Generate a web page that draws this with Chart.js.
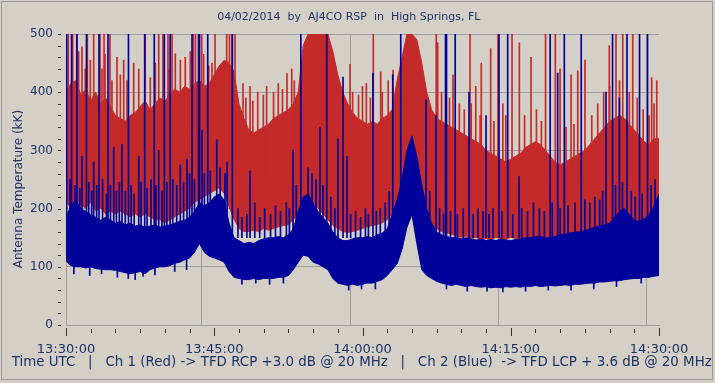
<!DOCTYPE html>
<html><head><meta charset="utf-8">
<script src="https://cdn.jsdelivr.net/npm/chart.js@4.4.1/dist/chart.umd.min.js"></script>
<style>html,body{margin:0;padding:0;background:#D4D0C8;}canvas{display:block;}</style>
</head><body>
<canvas id="c" width="715" height="383"></canvas>
<script>
// ---- text ----
const titleText = "04/02/2014  by  AJ4CO RSP  in  High Springs, FL";
const footerText = "Time UTC   |   Ch 1 (Red) -> TFD RCP +3.0 dB @ 20 MHz   |   Ch 2 (Blue)  -> TFD LCP + 3.6 dB @ 20 MHz";
const yAxisTitle = "Antenna Temperature (kK)";
const startHour = 13, startMinute = 30;      // x axis origin 13:30:00 UTC
const sampleStepMin = 0.5;                   // envelope sample spacing (minutes)

// ---- Ch 1 (red) envelope, kK, every 0.5 min from 13:30 ----
const redHigh = [
 400,415,420,395,405,385,400,380,390,375,
 360,355,350,360,365,375,385,370,380,390,
 385,395,405,400,410,405,415,420,410,415,
 430,445,455,450,435,380,355,335,330,335,
 340,345,355,360,365,370,380,400,480,500,
 500,500,500,500,470,430,400,380,365,355,
 350,345,350,345,355,360,370,420,460,500,
 500,490,450,400,370,355,350,345,340,335,
 330,325,320,315,310,300,295,290,285,280,
 285,290,295,305,310,315,310,300,290,280,
 275,280,285,290,295,300,310,320,330,340,
 350,355,360,355,345,335,325,315,310,320,
 320];
const redLow = [
 210,200,215,205,200,210,195,200,190,195,
 190,195,190,185,190,185,190,185,180,180,
 175,180,185,190,195,200,210,215,220,225,
 230,235,225,200,180,165,160,160,162,160,
 165,162,165,168,170,172,180,190,205,215,
 210,200,190,180,170,165,160,158,160,162,
 165,168,170,172,175,180,190,200,210,240,
 260,240,200,180,170,165,160,158,155,152,
 150,152,148,150,146,148,145,150,148,146,
 150,148,145,150,148,152,150,148,146,150,
 152,150,155,152,158,155,160,158,162,160,
 165,168,170,165,162,160,165,168,170,172,
 175];
// ---- Ch 2 (blue) envelope ----
const blueHigh = [
 185,205,215,200,195,190,185,180,185,180,
 175,178,172,175,170,172,168,170,172,168,
 170,172,175,178,180,185,195,210,205,210,
 220,225,215,175,150,145,140,142,140,145,
 148,150,150,152,150,155,165,195,220,225,
 210,195,185,175,160,150,145,145,148,150,
 150,152,150,155,158,165,190,215,250,300,
 325,290,240,200,175,160,155,152,150,150,
 148,150,148,146,148,145,147,145,148,146,
 145,147,148,150,150,152,152,150,150,152,
 155,156,158,160,160,162,165,168,170,172,
 175,185,195,200,190,180,178,182,190,205,
 225];
const blueLow = [
 110,102,100,100,98,100,97,96,95,95,
 94,92,90,88,90,92,88,95,98,100,
 100,102,106,108,112,115,125,140,125,118,
 115,112,108,92,82,80,78,78,80,78,
 80,80,80,82,82,85,95,108,120,118,
 108,105,100,95,80,72,70,68,70,68,
 70,72,72,75,78,85,95,105,130,168,
 190,140,95,85,80,75,72,70,68,70,
 68,66,68,66,65,66,64,65,64,66,
 65,66,65,67,66,68,66,67,68,67,
 68,69,68,70,70,71,72,72,74,74,
 75,76,76,78,79,80,80,82,82,84,
 85];

// ---- impulsive spikes (minutes after 13:30, peak kK) ----
const redSpikeTimes = [0.23,0.68,1.08,1.62,2.16,2.80,3.44,3.85,3.95,4.45,5.16,5.84,6.85,8.02,9.38,9.81,10.32,10.73,11.06,12.07,12.88,13.10,13.73,14.44,15.08,16.26,16.54,16.80,17.10,17.91,18.62,19.40,19.97,21.48,22.36,22.84,28.74,30.39,31.09,31.84,33.09,37.46,37.61,39.16,40.88,41.46,42.02,42.97,43.71,45.13,45.87,47.05,48.52,49.51,49.99,51.10,51.78,52.51,54.97,55.65,56.33,57.34,59.26,59.77];
const redSpikeTops  = [500,500,500,478,500,500,500,500,465,500,460,455,450,500,500,500,500,500,466,460,500,500,500,445,500,500,500,500,500,415,410,400,395,415,432,440,448,415,500,435,438,500,485,430,500,410,450,475,500,500,485,460,500,500,440,430,437,455,480,500,500,500,425,420];
const blueSpikeTimes = [0.07,0.56,1.11,1.62,2.07,2.80,3.34,4.25,4.83,5.67,6.32,7.36,7.96,8.93,9.38,9.95,10.54,11.57,12.24,12.75,13.41,13.51,13.76,14.34,15.25,16.09,16.83,18.62,22.97,23.76,25.70,26.38,27.52,28.03,28.43,31.06,33.06,33.87,36.43,37.44,38.40,38.50,39.38,40.78,42.50,43.81,44.69,45.84,48.99,49.75,50.42,52.13,54.64,55.30,55.99,56.76,58.03,58.84];
const blueSpikeTops  = [500,500,500,290,500,280,500,500,305,310,500,290,500,500,300,500,500,275,285,500,500,500,335,500,318,260,500,265,300,500,340,500,320,426,290,433,430,500,387,360,500,500,500,400,360,500,500,255,500,433,500,500,400,500,390,500,500,500];

// ---- smaller noise needles above each band ----
const redNeedleTimes = [1.28,1.95,2.46,3.64,4.65,5.50,6.17,7.36,8.53,9.04,10.39,11.57,12.58,13.93,14.77,18.2,18.9,20.3,21.0,21.9,23.1,29.0,29.6,30.0,30.8,32.0,32.6,38.0,38.8,39.8,40.3,41.0,41.9,43.3,44.2,44.5,46.4,47.6,48.1,50.6,51.4,53.2,53.8,54.4,55.0,56.0,57.0,57.8,58.4,59.0,59.5];
const redNeedleTops  = [470,440,455,440,420,430,420,440,425,450,440,455,470,465,450,390,385,410,400,405,420,400,395,410,390,400,420,400,390,380,370,380,360,350,380,360,360,370,350,340,345,360,380,400,410,420,400,390,370,360,380];
const blueNeedleTimes = [0.4,0.9,1.4,2.3,2.6,3.1,3.7,4.1,4.5,5.1,5.4,6.0,6.6,6.9,7.6,8.2,8.6,9.1,9.7,10.2,10.8,11.2,11.9,12.5,13.0,14.0,14.6,15.6,16.3,17.4,17.8,18.3,19.1,19.6,20.1,20.7,21.2,21.7,22.3,22.6,23.3,24.5,24.9,25.3,26.0,26.8,27.2,28.8,29.3,29.8,30.3,30.6,31.4,31.8,32.3,32.7,36.8,37.8,38.2,38.9,39.6,40.2,41.2,41.7,42.2,42.8,43.2,44.1,45.2,46.1,46.7,47.3,47.9,48.4,49.2,50.0,50.8,51.5,52.5,53.0,53.5,54.0,54.3,55.6,56.3,57.2,57.6,58.3,59.2,59.6];
const blueNeedleTops  = [250,240,235,245,230,240,250,225,240,230,245,230,240,225,245,235,250,240,230,245,250,240,245,260,250,260,265,270,280,200,185,190,210,185,200,190,205,195,210,200,240,270,260,250,240,220,200,190,195,185,200,190,195,200,210,230,230,200,190,195,190,200,190,200,195,190,200,195,190,200,195,210,200,195,210,200,205,210,215,210,220,215,230,240,245,230,220,225,240,250];
// downward excursions below the blue band
const blueDipTimes   = [0.8,2.4,3.6,5.2,6.3,7.0,7.8,9.0,11.0,12.2,17.8,19.2,20.6,22.0,28.6,29.9,31.3,38.5,40.6,42.6,44.2,46.5,48.8,51.1,53.4,55.7,58.2];
const blueDipBottoms = [88,85,88,82,80,78,84,86,92,95,70,72,70,72,60,62,62,62,58,58,57,58,60,60,62,66,72];

// ---- axis ticks ----
const xMajorStepMin = 15, xMinorStepMin = 2.5;
const yMajorStep = 100, yMinorStep = 20;

// ---- styling ----
const RED = '#C42A2A', BLUE = '#00009A', BG = '#D4D0C8', GRID = '#A0A0A0', TEXT = '#1E3264', TICK = '#333333';
const RED_SPIKE_BASE = 250, BLUE_SPIKE_BASE = 150, BLUE_DIP_TOP = 120;

const sampleMinutes = redHigh.map((_, i) => i * sampleStepMin);
const pts = arr => arr.map((v, i) => ({x: sampleMinutes[i], y: v}));
const spikes = (t, tops, base) => t.map((x, i) => ({x, y: [base, tops[i]]}));
const isMult = (v, s) => Math.abs(v / s - Math.round(v / s)) < 1e-6;
const clock = v => {
  const tot = startHour * 60 + startMinute + Math.round(v);
  const h = Math.floor(tot / 60), m = tot % 60;
  return String(h).padStart(2,'0') + ':' + String(m).padStart(2,'0') + ':00';
};
const gridColor = step => c => (c.tick && isMult(c.tick.value, step)) ? GRID : 'rgba(0,0,0,0)';

const framePlugin = {
  id: 'frame',
  beforeDraw(chart) {
    const c = chart.ctx;
    c.save();
    c.fillStyle = BG; c.fillRect(0, 0, chart.width, chart.height);
    c.strokeStyle = '#9A9A9A'; c.lineWidth = 1;
    c.strokeRect(1.5, 1.5, chart.width - 4, chart.height - 5);
    c.restore();
  },
  afterDraw(chart) {
    const c = chart.ctx, xs = chart.scales.x, ys = chart.scales.y, a = chart.chartArea;
    c.save(); c.fillStyle = TICK;
    xs.ticks.forEach(t => {
      const px = Math.round(xs.getPixelForValue(t.value));
      if (isMult(t.value, xMajorStepMin)) c.fillRect(px, a.bottom + 3, 1, 8);
      else c.fillRect(px, a.bottom + 4, 1, 4);
    });
    ys.ticks.forEach(t => {
      const py = Math.round(ys.getPixelForValue(t.value));
      c.fillRect(a.left - 8, py, 3, 1);
    });
    c.restore();
  }
};

const lineBase = {type: 'line', pointRadius: 0, borderWidth: 1, tension: 0};
const barBase = {type: 'bar', barThickness: 1, grouped: false, borderWidth: 0};
new Chart(document.getElementById('c'), {
  type: 'line',
  data: {
    datasets: [
      {...lineBase, label: 'red low', data: pts(redLow), borderColor: RED, borderWidth: 0, fill: false, order: 10},
      {...lineBase, label: 'Ch 1 (Red)', data: pts(redHigh), borderColor: RED, fill: {target: 0, above: RED, below: RED}, order: 9},
      {...lineBase, label: 'blue low', data: pts(blueLow), borderColor: BLUE, fill: false, order: 7},
      {...lineBase, label: 'Ch 2 (Blue)', data: pts(blueHigh), borderColor: BLUE, fill: {target: 2, above: BLUE, below: BLUE}, order: 6},
      {...barBase, label: 'red spikes', data: spikes(redSpikeTimes, redSpikeTops, RED_SPIKE_BASE), backgroundColor: RED, order: 8},
      {...barBase, label: 'red needles', data: spikes(redNeedleTimes, redNeedleTops, RED_SPIKE_BASE), backgroundColor: RED, order: 8},
      {...barBase, label: 'blue needles', data: spikes(blueNeedleTimes, blueNeedleTops, BLUE_SPIKE_BASE), backgroundColor: BLUE, order: 5},
      {...barBase, label: 'blue dips', data: spikes(blueDipTimes, blueDipBottoms, BLUE_DIP_TOP), backgroundColor: BLUE, order: 5},
      {...barBase, label: 'blue spikes', data: spikes(blueSpikeTimes, blueSpikeTops, BLUE_SPIKE_BASE), backgroundColor: BLUE, order: 4}
    ]
  },
  options: {
    responsive: false, animation: false, devicePixelRatio: 1,
    layout: {padding: 0},
    plugins: {
      legend: {display: false}, tooltip: {enabled: false},
      title: {display: true, text: titleText + '     ', color: TEXT,
        font: {family: 'DejaVu Sans', size: 11, weight: 'normal'}, padding: {top: 11, bottom: 9.8}},
      subtitle: {display: true, position: 'bottom', text: '  ' + footerText, color: TEXT,
        font: {family: 'DejaVu Sans', size: 13.4, weight: 'normal'}, padding: {top: 0, bottom: 12.9}}
    },
    scales: {
      x: {type: 'linear', position: 'bottom', min: 0, max: 60, offset: false,
        afterFit: s => { s.height = 29; },
        ticks: {stepSize: xMinorStepMin, autoSkip: false, maxRotation: 0, color: TEXT, padding: 17,
          font: {family: 'DejaVu Sans', size: 13},
          callback: v => isMult(v, xMajorStepMin) ? clock(v) : ''},
        grid: {drawTicks: false, color: gridColor(xMajorStepMin)},
        border: {display: true, color: GRID}},
      y: {type: 'linear', position: 'left', min: 0, max: 500,
        afterFit: s => { s.width = 66; },
        ticks: {stepSize: yMinorStep, autoSkip: false, color: TEXT, padding: 13,
          font: {family: 'DejaVu Sans', size: 12},
          callback: v => isMult(v, yMajorStep) ? String(v) : ''},
        grid: {drawTicks: false, color: gridColor(yMajorStep)},
        border: {display: true, color: GRID},
        title: {display: true, text: yAxisTitle + '     ', color: TEXT,
          font: {family: 'DejaVu Sans', size: 12}, padding: {top: 12, bottom: 0}}},
      y2: {type: 'linear', position: 'right', min: 0, max: 500,
        afterFit: s => { s.width = 56; },
        ticks: {display: false}, grid: {display: false}, border: {display: false}}
    }
  },
  plugins: [framePlugin]
});
</script>
</body></html>
